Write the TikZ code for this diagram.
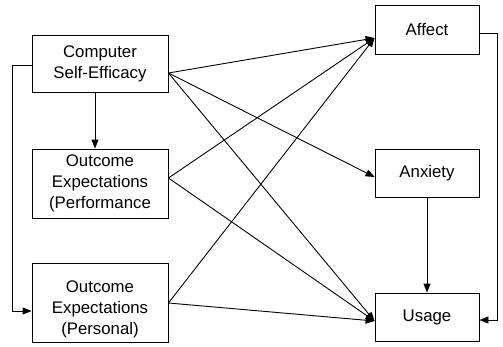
\documentclass[tikz,border=0pt]{standalone}
\usepackage{fontspec}
\setmainfont{Liberation Sans}
\usetikzlibrary{arrows.meta}
\begin{document}
\begin{tikzpicture}[x=1pt,y=-1pt,
  boxtext/.style={inner sep=0pt,align=center,
    font=\fontsize{16.8}{21}\selectfont},
  box/.style={draw,line width=0.9pt,boxtext},
  conn/.style={line width=0.9pt,-{Triangle[length=9pt,width=7pt]}}]
\useasboundingbox (0,0) rectangle (503,346);
\node[box,minimum width=136pt,minimum height=57pt] (cse) at (100,63.5) {Computer\\Self-Efficacy};
\node[box,minimum width=136pt,minimum height=69pt] (oeperf) at (100,183.5) {Outcome\\Expectations\\(Performance};
\node[box,minimum width=136pt,minimum height=79pt,
  label={[boxtext,yshift=-7pt]center:Outcome\\Expectations\\(Personal)}] (oepers) at (100,302.5) {};
\node[box,minimum width=104pt,minimum height=49pt] (affect) at (427,29.5) {Affect};
\node[box,minimum width=104pt,minimum height=48pt] (anxiety) at (427,173) {Anxiety};
\node[box,minimum width=104pt,minimum height=48pt] (usage) at (427,317) {Usage};
% source and target points on borders
\coordinate (s1) at (cse.east |- 0,73);
\coordinate (s2) at (oeperf.east |- 0,178);
\coordinate (s3) at (oepers.east |- 0,303);
\coordinate (ta) at (affect.west |- 0,38);
\coordinate (tx) at (anxiety.west |- 0,177);
\coordinate (tu) at (usage.west |- 0,321);
\draw[conn] (s1) -- (ta);
\draw[conn] (s1) -- (tx);
\draw[conn] (s1) -- (tu);
\draw[conn] (s2) -- (ta);
\draw[conn] (s2) -- (tu);
\draw[conn] (s3) -- (ta);
\draw[conn] (s3) -- (tu);
% vertical arrows
\draw[conn] (cse.south -| 95,0) -- (oeperf.north -| 95,0);
\draw[conn] (anxiety.south) -- (usage.north);
% left loop
\coordinate (l1) at (12,65);
\coordinate (l2) at (12,311);
\draw[conn] (cse.west |- l1) -- (l1) -- (l2) -- (oepers.west |- l2);
% right loop
\coordinate (r1) at (497,33);
\coordinate (r2) at (497,320);
\draw[conn] (affect.east |- r1) -- (r1) -- (r2) -- (usage.east |- r2);
\end{tikzpicture}
\end{document}
